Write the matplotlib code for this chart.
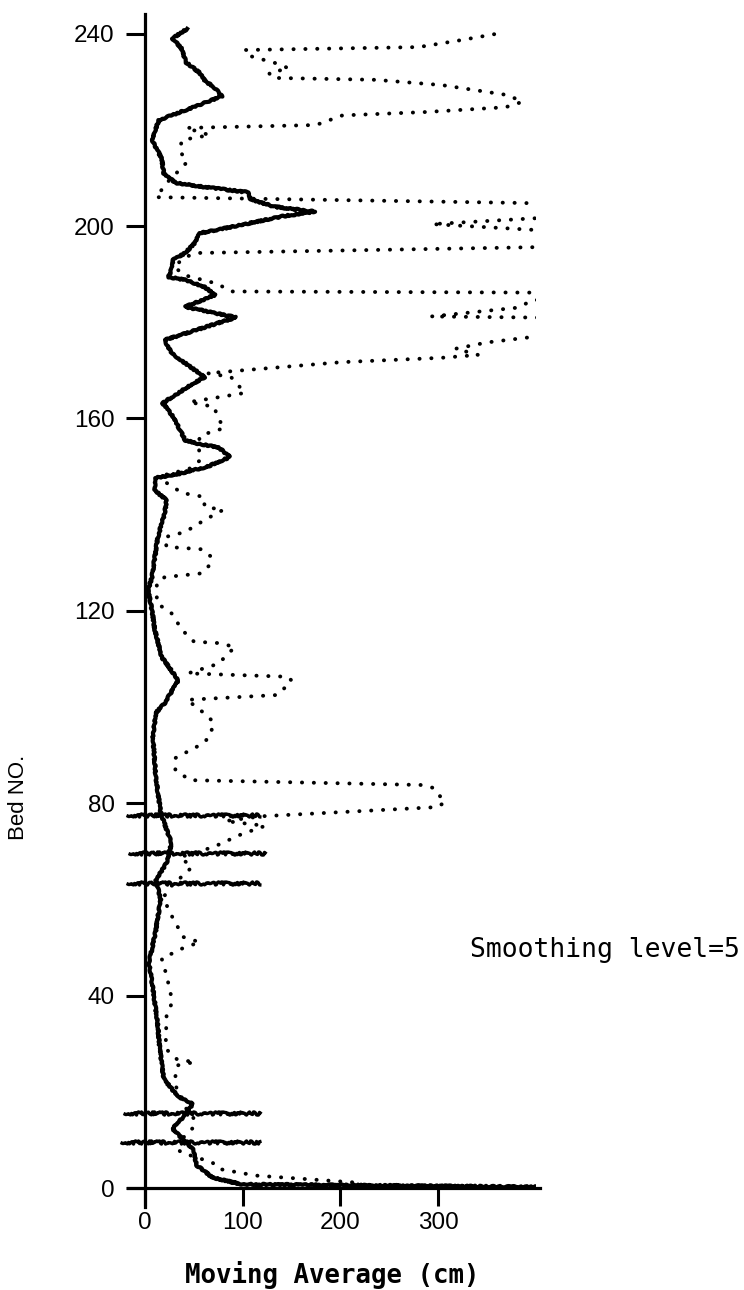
import numpy as np
import matplotlib
matplotlib.use("Agg")
import matplotlib.pyplot as plt
from matplotlib.patches import Rectangle

# solid line: moving average (bed number, value in cm)
solid_bed = [0, 0.8, 2.2, 4.7, 8.1, 9.9, 12.3, 15, 17.5, 19.2, 22.7, 29, 33.8, 41.5, 47,
             47.8, 53.6, 60, 64, 67.6, 71.7, 78, 85.4, 93.8, 98.8, 100.8, 105.6, 110.4, 116,
             120.2, 124.3, 127, 131.2, 135.3, 140.3, 143, 145, 147.6, 148.6, 150, 152, 154,
             154.9, 155.5, 160.3, 163.2, 167, 168.6, 171.5, 173.6, 176.3, 181, 183.2, 185.7,
             187.3, 188.8, 189.4, 191, 193, 194.4, 196.5, 198.5, 200, 202, 203, 204, 205.5,
             207, 208, 209, 211, 214, 218, 222, 227, 229, 230, 232, 234, 237, 239, 241]
solid_val = [520, 98, 69, 53, 49, 40, 28, 40, 49, 33, 19, 15, 13, 8, 4,
             5, 11, 16, 11, 22, 27, 16, 11, 8, 11, 20, 34, 17, 10,
             7, 3, 7, 10, 13, 20, 22, 10, 10, 37, 64, 87, 75,
             51, 41, 29, 18, 47, 61, 41, 27, 20, 93, 41, 72,
             61, 41, 24, 27, 29, 41, 51, 56, 93, 140, 174, 133, 108,
             106, 65, 31, 19, 17, 7, 14, 79, 70, 62, 55, 42, 37, 28, 43]

# dotted line: raw bed thickness (bed number, value in cm)
dot_bed = [1.2, 2.6, 4.0, 5.3, 7.4, 9.2, 10.9, 13.0, 15.0, 17.2, 22.0, 25.5, 26.2, 26.7,
           29.0, 36.0, 38.7, 44.2, 47.7, 50.0, 51.1, 52.2, 57.8, 60.5, 62.6, 66.7, 68.8,
           70.9, 73.5, 75.3, 76.3, 77.3, 79.2, 80.2, 83.2, 83.8, 84.8, 86.9, 89.4, 92.5,
           94.2, 96.9, 98.8, 101.5, 102.5, 104.0, 105.5, 106.3, 107.0, 109.0, 112.5, 113.3,
           113.6, 116.0, 119.5, 121.6, 125.8, 127.0, 127.8, 129.5, 131.2, 132.8, 133.3,
           135.3, 136.4, 138.9, 141.0, 141.6, 143.7, 144.5, 146.6, 148.2, 149.5, 151.4,
           154.9, 156.5, 158.0, 160.3, 162.4, 163.4, 165.3, 167.0, 168.6, 169.4, 171.7,
           172.6, 173.2, 174.5, 175.8, 176.9, 180.8, 181.2, 183.0, 184.6, 185.2, 186.1,
           186.4, 188.0, 189.8, 191.5, 193.5, 194.4, 195.6, 196.0, 198.8, 199.2, 200.4,
           201.6, 202.0, 204.3, 204.8, 206.0, 209.6, 211.6, 213.3, 215.8, 217.9, 218.9,
           220.4, 221.0, 223.0, 223.7, 224.7, 225.8, 227.2, 229.3, 230.4, 230.8, 231.8,
           232.8, 233.9, 235.6, 236.6, 237.2, 238.7, 240.3]
dot_val = [212, 113, 75, 69, 37, 28, 42, 51, 49, 39, 30, 33, 51, 33,
           21, 22, 28, 22, 17, 40, 56, 39, 24, 19, 26, 48, 36,
           70, 98, 123, 82, 120, 299, 307, 295, 282, 46, 31, 31, 60,
           67, 70, 60, 43, 135, 143, 150, 146, 44, 75, 92, 75,
           50, 38, 27, 12, 12, 20, 58, 66, 68, 58, 22,
           20, 41, 61, 80, 61, 60, 38, 22, 19, 45, 57,
           54, 57, 81, 74, 71, 45, 102, 95, 88, 64, 201,
           303, 341, 318, 350, 395, 480, 293, 380, 398, 480, 480,
           88, 74, 40, 30, 40, 54, 398, 480, 480, 398, 294,
           398, 480, 480, 385, 11, 25, 35, 43, 35, 38, 66,
           42, 175, 202, 287, 369, 386, 372, 304, 236, 130, 127,
           147, 133, 103, 103, 280, 325, 369]

# bed-boundary marks (bed number) and their extent
mark_beds = [9.5, 15.7, 63.4, 69.6, 77.5]
mark_from = [-26, -23, -20, -17, -20]
mark_to = [119, 119, 119, 124, 119]

yticks = [0, 40, 80, 120, 160, 200, 240]
xticks = [0, 100, 200, 300]

fig = plt.figure(figsize=(7.44, 12.9), dpi=100)
ax = fig.add_axes([0.1425, 0.0492, 0.5908, 0.9471])
ax.set_xlim(-40, 410)
ax.set_ylim(-8, 246)

clip = Rectangle((-60, -20), 460, 280, transform=ax.transData)

ln, = ax.plot(solid_val, solid_bed, color="black", lw=3.0, solid_joinstyle="round")
ln.set_clip_path(clip)
ln.set_sketch_params(scale=0.7, length=6, randomness=4)

dl, = ax.plot(dot_val, dot_bed, color="black", lw=2.8,
              linestyle=(0, (0.05, 3.0)), dash_capstyle="round")
dl.set_clip_path(clip)

for b, x0, x1 in zip(mark_beds, mark_from, mark_to):
    h = ax.hlines(b, x0, x1, color="black", lw=2.4)
    h.set_sketch_params(scale=1.6, length=3, randomness=8)

for s in ["top", "right"]:
    ax.spines[s].set_visible(False)
ax.spines["left"].set_position(("data", 0))
ax.spines["bottom"].set_position(("data", 0))
ax.spines["left"].set_bounds(-4, 244)
ax.spines["bottom"].set_bounds(-17, 404)
for s in ["left", "bottom"]:
    ax.spines[s].set_linewidth(2.3)

ax.set_yticks(yticks)
ax.set_xticks(xticks)
ax.tick_params(axis="y", direction="out", length=14, width=2.2, pad=8)
ax.tick_params(axis="x", direction="out", length=13, width=2.2, pad=4)
for t in ax.get_xticklabels() + ax.get_yticklabels():
    t.set_fontfamily("Liberation Sans")
    t.set_fontsize(17.5)

fig.text(470 / 744, 1 - 957 / 1290, "Smoothing level=5", family="DejaVu Sans Mono",
         fontsize=19, ha="left", va="baseline")
fig.text(332 / 744, 1 - 1283 / 1290, "Moving Average (cm)", family="DejaVu Sans Mono",
         fontsize=18.5, fontweight="bold", ha="center", va="baseline")
fig.text(19 / 744, 1 - 797 / 1290, "Bed NO.", family="Liberation Sans",
         fontsize=16, rotation=90, ha="center", va="center")

fig.savefig("out.png", dpi=100, facecolor="white")
